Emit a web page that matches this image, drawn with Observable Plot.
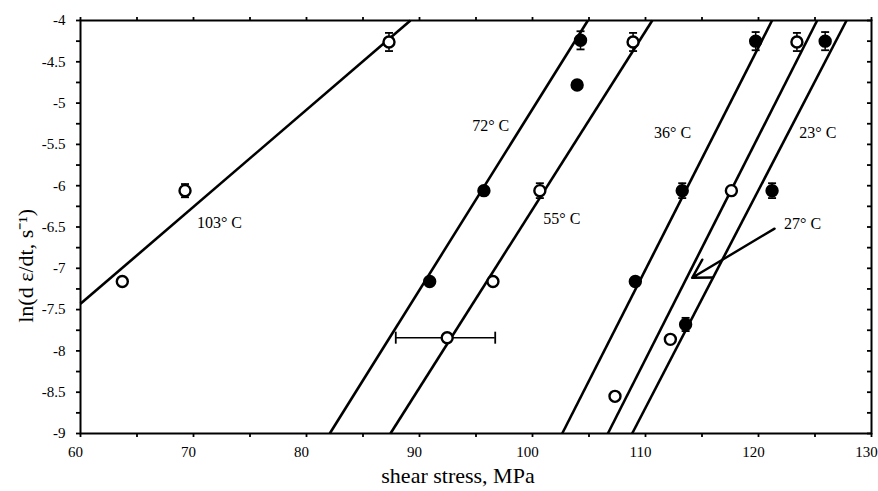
<!DOCTYPE html>
<html><head><meta charset="utf-8">
<script src="https://cdn.jsdelivr.net/npm/d3@7"></script>
<script src="https://cdn.jsdelivr.net/npm/@observablehq/plot@0.6"></script>
<style>
html,body{margin:0;padding:0;background:#fff;}
</style>
</head><body><div id="chart"></div>
<script>
// Series (temperature) names and marker style
const seriesNames = ["103° C", "72° C", "55° C", "36° C", "27° C", "23° C"];
const seriesFilled = [false, true, false, true, false, true];
// Measured points: shear stress (MPa) and ln(strain rate)
const stressValues = [
  [63.7, 69.25, 87.3],
  [90.9, 95.7, 103.95, 104.25],
  [92.45, 96.5, 100.65, 108.9],
  [109.1, 113.25, 119.75],
  [107.3, 112.2, 117.6, 123.4],
  [113.55, 121.2, 125.9]
];
const rateValues = [
  [-7.16, -6.06, -4.26],
  [-7.16, -6.06, -4.78, -4.24],
  [-7.84, -7.16, -6.06, -4.26],
  [-7.16, -6.06, -4.25],
  [-8.55, -7.86, -6.06, -4.26],
  [-7.68, -6.06, -4.25]
];
const rateErrors = [
  [0, 0.08, 0.11],
  [0, 0, 0, 0.11],
  [0, 0, 0.09, 0.11],
  [0.05, 0.09, 0.11],
  [0, 0, 0, 0.11],
  [0.08, 0.09, 0.11]
];
// Fitted lines (start and end points)
const fitStartX = [60, 82.06, 87.43, 102.63, 106.67, 108.82];
const fitStartY = [-7.43, -9, -9, -9, -9, -9];
const fitEndX = [89.2, 104.9, 110.6, 121.2, 125.19, 127.79];
const fitEndY = [-4, -4, -4, -4, -4, -4];
// Temperature label anchors
const labelX = [72.3, 96.3, 102.6, 112.4, 123.9, 125.25];
const labelY = [-6.45, -5.28, -6.40, -5.36, -6.46, -5.36];
// Horizontal stress error bar (55 C point)
const hErrY = [-7.84];
const hErrX1 = [87.9];
const hErrX2 = [96.7];
// Arrow for 27 C label
const arrowX1 = [121.42], arrowY1 = [-6.52], arrowX2 = [114.13], arrowY2 = [-7.115];
// Ticks
const xTicks = d3.range(60, 131, 5);
const xLabelTicks = d3.range(60, 131, 10);
const yTicks = d3.range(-9, -3.99, 0.25);
const yLabelTicks = d3.range(-9, -3.99, 0.5);
const xTitle = "shear stress, MPa";
const yTitle = "ln(d ε/dt, s⁻¹)";
const yTitlePos = [-6.97];

const points = [];
seriesNames.forEach((name, i) => {
  stressValues[i].forEach((x, j) => {
    points.push({series: name, filled: seriesFilled[i], x, y: rateValues[i][j], err: rateErrors[i][j]});
  });
});
const errPoints = points.filter(d => d.err > 0);
const fits = seriesNames.map((s, i) => ({s, x1: fitStartX[i], y1: fitStartY[i], x2: fitEndX[i], y2: fitEndY[i]}));
const labels = seriesNames.map((s, i) => ({s, x: labelX[i], y: labelY[i]}));
const hErr = hErrY.map((y, i) => ({y, x1: hErrX1[i], x2: hErrX2[i]}));
const arrows = arrowX1.map((x, i) => ({x1: x, y1: arrowY1[i], x2: arrowX2[i], y2: arrowY2[i]}));

const hCap = {draw(ctx, size) { const r = Math.sqrt(size / Math.PI); ctx.moveTo(-r, 0); ctx.lineTo(r, 0); }};
const vCap = {draw(ctx, size) { const r = Math.sqrt(size / Math.PI); ctx.moveTo(0, -r); ctx.lineTo(0, r); }};

const chart = Plot.plot({
  width: 878,
  height: 491,
  marginTop: 20,
  marginBottom: 58,
  marginLeft: 80,
  marginRight: 7,
  style: {fontFamily: "'Liberation Serif', serif", fontSize: "15px", color: "black", background: "white"},
  x: {domain: [60, 130], label: null},
  y: {domain: [-9, -4], label: null},
  marks: [
    Plot.link(fits, {x1: "x1", y1: "y1", x2: "x2", y2: "y2", stroke: "black", strokeWidth: 2.6}),
    Plot.ruleX(errPoints, {x: "x", y1: d => d.y - d.err, y2: d => d.y + d.err, stroke: "black", strokeWidth: 1.5}),
    Plot.dot(errPoints, {x: "x", y: d => d.y - d.err, symbol: hCap, r: 4, stroke: "black", strokeWidth: 1.8, fill: "none"}),
    Plot.dot(errPoints, {x: "x", y: d => d.y + d.err, symbol: hCap, r: 4, stroke: "black", strokeWidth: 1.8, fill: "none"}),
    Plot.ruleY(hErr, {y: "y", x1: "x1", x2: "x2", stroke: "black", strokeWidth: 1.5}),
    Plot.dot(hErr, {x: "x1", y: "y", symbol: vCap, r: 6, stroke: "black", strokeWidth: 1.8, fill: "none"}),
    Plot.dot(hErr, {x: "x2", y: "y", symbol: vCap, r: 6, stroke: "black", strokeWidth: 1.8, fill: "none"}),
    Plot.dot(points, {x: "x", y: "y", r: 5.5, fill: d => d.filled ? "black" : "white", stroke: "black", strokeWidth: 2.4}),
    Plot.text(labels, {x: "x", y: "y", text: "s", fontSize: 16, fill: "black"}),
    Plot.arrow(arrows, {x1: "x1", y1: "y1", x2: "x2", y2: "y2", stroke: "black", strokeWidth: 2.4, headLength: 13}),
    Plot.frame({stroke: "black", strokeWidth: 2}),
    Plot.axisX({anchor: "bottom", ticks: xTicks, tickSize: 4, tickFormat: () => "", label: null, strokeWidth: 1.8}),
    Plot.axisX({anchor: "bottom", ticks: xLabelTicks, tickSize: 0, tickPadding: 13, dx: -5, label: null, fontSize: 15}),
    Plot.axisX({anchor: "top", ticks: xTicks, tickSize: 4, tickFormat: () => "", label: null, strokeWidth: 1.8}),
    Plot.axisY({anchor: "left", ticks: yTicks, tickSize: 4, tickFormat: () => "", label: null, strokeWidth: 1.8}),
    Plot.axisY({anchor: "left", ticks: yLabelTicks, tickSize: 0, tickPadding: 15, tickFormat: d => String(d), label: null, fontSize: 15}),
    Plot.axisY({anchor: "right", ticks: yTicks, tickSize: -5, tickFormat: () => "", label: null, strokeWidth: 1.8}),
    Plot.text([xTitle], {frameAnchor: "bottom", text: d => d, dx: -18, dy: 42, lineAnchor: "middle", fontSize: 22, fill: "black"}),
    Plot.text(yTitlePos, {y: d => d, frameAnchor: "left", text: () => yTitle, dx: -55, rotate: -90, textAnchor: "middle", lineAnchor: "middle", fontSize: 22, fill: "black"})
  ]
});
document.getElementById("chart").appendChild(chart);
</script>
</body></html>
